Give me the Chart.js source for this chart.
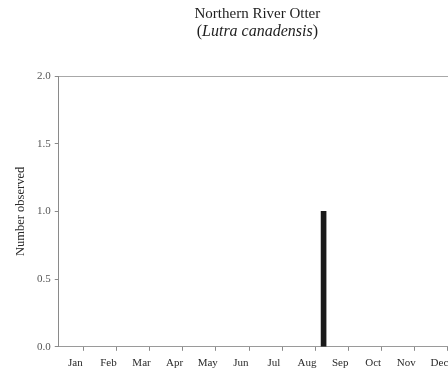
<!DOCTYPE html>
<html>
<head>
<meta charset="utf-8">
<script src="https://cdn.jsdelivr.net/npm/chart.js@4/dist/chart.umd.min.js"></script>
<style>
  html, body { margin: 0; padding: 0; background: #fff; overflow: hidden; }
  #wrap { width: 470px; height: 376px; }
</style>
</head>
<body>
<div id="wrap"><canvas id="c" width="470" height="376"></canvas></div>
<script>
// Month labels along the bottom axis
const months = ['Jan', 'Feb', 'Mar', 'Apr', 'May', 'Jun', 'Jul', 'Aug', 'Sep', 'Oct', 'Nov', 'Dec'];
// Sightings: position in months from 1 Jan (8.0 = turn of Aug/Sep) and count
const obsPosition = [8.0];
const obsCount = [1];
// Y-axis tick values
const yTicks = [0, 0.5, 1.0, 1.5, 2.0];

const titleMain = 'Northern River Otter';
const titleLatin = 'Lutra canadensis';

const serif = '"Liberation Serif", "DejaVu Serif", serif';

// Title drawn centred over the plot area, latin name in italics inside upright brackets
const titlePlugin = {
  id: 'speciesTitle',
  afterDraw(chart) {
    const { ctx, chartArea } = chart;
    const cx = (chartArea.left + chartArea.right) / 2;
    ctx.save();
    ctx.fillStyle = '#1e1e1e';
    ctx.textBaseline = 'middle';
    ctx.textAlign = 'center';
    ctx.font = '15px ' + serif;
    ctx.fillText(titleMain, cx, 14);

    const upFont = '16px ' + serif;
    const itFont = 'italic 16px ' + serif;
    ctx.font = upFont;
    const wOpen = ctx.measureText('(').width;
    const wClose = ctx.measureText(')').width;
    ctx.font = itFont;
    const wMid = ctx.measureText(titleLatin).width;
    let x = cx - (wOpen + wMid + wClose) / 2;
    ctx.textAlign = 'left';
    ctx.font = upFont;
    ctx.fillText('(', x, 32);
    x += wOpen;
    ctx.font = itFont;
    ctx.fillText(titleLatin, x, 32);
    x += wMid;
    ctx.font = upFont;
    ctx.fillText(')', x, 32);
    ctx.restore();
  }
};

const isWhole = c => !!(c && c.tick) && Number.isInteger(c.tick.value);

const data = {
  datasets: [{
    data: obsPosition.map((p, i) => ({ x: p, y: obsCount[i] })),
    backgroundColor: '#1a1a1a',
    borderWidth: 0,
    barThickness: 5
  }]
};

new Chart(document.getElementById('c'), {
  type: 'bar',
  data,
  plugins: [titlePlugin],
  options: {
    responsive: false,
    animation: false,
    layout: { padding: { top: 76, left: 13, right: 14, bottom: 0 } },
    plugins: { legend: { display: false }, tooltip: { enabled: false }, title: { display: false } },
    scales: {
      x: {
        type: 'linear',
        min: 0,
        max: 12,
        offset: false,
        afterBuildTicks(axis) {
          const t = [];
          for (let i = 0; i <= 24; i++) t.push({ value: i / 2 });
          axis.ticks = t;
        },
        ticks: {
          autoSkip: false,
          maxRotation: 0,
          color: '#2a2a2a',
          font: { family: serif, size: 11 },
          padding: 6,
          callback(v) {
            const k = v - 0.5;
            return Number.isInteger(k) ? months[k] : '';
          }
        },
        grid: {
          drawOnChartArea: false,
          drawTicks: true,
          tickLength: 4,
          color: '#8a8a8a',
          tickColor: c => isWhole(c) ? '#8a8a8a' : 'rgba(0,0,0,0)'
        },
        border: { display: true, color: '#9a9a9a', width: 1 }
      },
      y: {
        min: 0,
        max: 2,
        afterBuildTicks(axis) {
          axis.ticks = yTicks.map(v => ({ value: v }));
        },
        ticks: {
          color: '#555',
          font: { family: serif, size: 11 },
          padding: 4,
          callback: v => v.toFixed(1)
        },
        grid: {
          drawOnChartArea: true,
          drawTicks: true,
          tickLength: 4,
          color: c => (c && c.tick && c.tick.value === 2) ? '#a8a8a8' : 'rgba(0,0,0,0)',
          tickColor: '#8a8a8a'
        },
        border: { display: true, color: '#8a8a8a', width: 1 },
        title: {
          display: true,
          text: 'Number observed',
          color: '#2a2a2a',
          font: { family: serif, size: 12.5 },
          padding: { top: 0, bottom: 5 }
        }
      }
    }
  }
});
</script>
</body>
</html>
